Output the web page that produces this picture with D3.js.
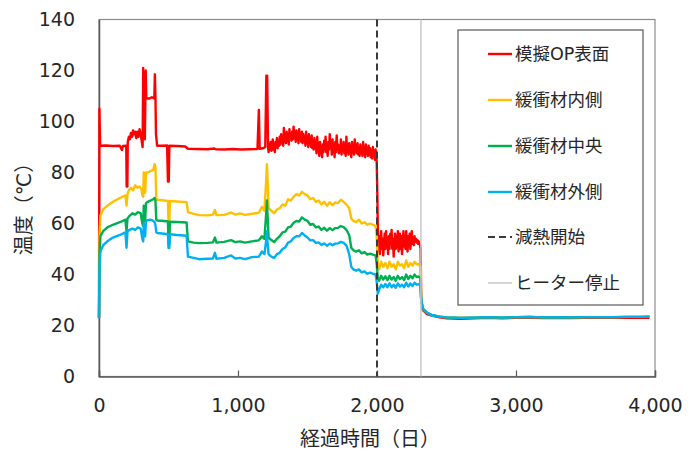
<!DOCTYPE html>
<html>
<head>
<meta charset="utf-8">
<script src="https://cdn.jsdelivr.net/npm/d3@7"></script>
<style>
  body { margin: 0; background: #fff; }
  svg text { font-family: "DejaVu Sans", "Noto Sans CJK JP", sans-serif; fill: #262626; }
</style>
</head>
<body>
<svg id="chart" width="696" height="452"></svg>
<script>
// values: [day, temperature °C]
var seriesNames = ["模擬OP表面", "緩衝材内側", "緩衝材中央", "緩衝材外側"];
var seriesColors = ["#ff0000", "#ffc000", "#00b050", "#00b0f0"];
var markerNames = ["減熱開始", "ヒーター停止"];
var markerDays = [2000, 2316];
var xTicks = [0, 1000, 2000, 3000, 4000];
var yTicks = [0, 20, 40, 60, 80, 100, 120, 140];

var redData = [[0,23],[3,105],[8,90.5],[50,90.6],[100,90.4],[150,90.5],[165,88.8],[172,90.4],[196,90.5],[199,74.5],[204,74.5],[207,92],[215,94],[222,93],[230,95.5],[238,94],[245,96.5],[252,95],[260,96],[268,93.5],[276,96],[284,94],[292,97],[300,95],[308,92],[314,90],[318,121],[322,96],[326,119],[330,93],[336,120],[340,109],[360,109],[380,109.5],[398,109],[402,118.5],[406,110],[410,95],[418,90.5],[450,90.5],[490,90.6],[496,76.5],[502,76.5],[506,90.5],[560,90.4],[620,90.2],[640,89.3],[700,89.2],[780,89.1],[830,89.4],[840,89.1],[900,89],[960,89.2],[1020,89],[1080,89.1],[1140,89.2],[1150,104.5],[1156,89.3],[1180,89.5],[1196,90],[1204,118],[1210,118],[1216,90],
  [1220,88],[1225,91],[1230,89],[1235,92],[1240,88.5],[1245,90],[1250,93],[1255,89],[1260,91],[1265,88],[1270,92],[1275,90],[1280,93.5],[1285,89.5],[1290,92],[1295,90.5],[1300,94],[1305,91],[1310,95],[1315,92],[1320,93],[1325,90.5],[1330,97.5],[1335,92],[1340,94.5],[1345,91.5],[1350,96],[1355,93],[1360,94],[1365,91],[1370,97],[1375,93],[1380,95],[1385,92.5],[1390,96],[1395,93],[1400,98],[1405,93.5],[1410,95],[1415,92],[1420,96.5],[1425,93],[1430,95],[1435,91.5],[1440,97],[1445,93],[1450,94.5],[1455,92],[1460,96],[1465,91.5],[1470,95],[1475,92.5],[1480,94],[1485,90.5],[1490,96],[1495,92],[1500,93.5],[1505,90],[1510,95],[1515,91.5],[1520,93],[1525,90],[1530,94.5],[1535,89.5],[1540,92],[1545,89],[1550,93.5],[1555,90],[1560,91],[1565,87.5],[1570,94],[1575,89],[1580,91.5],[1585,86.5],[1590,92],[1595,88.5],[1600,90],[1605,86],[1610,91],[1615,88],[1620,92.5],[1625,89],[1630,94],[1635,88],[1640,90],[1645,86.5],[1650,92],[1655,89],[1660,95],[1665,89.5],[1670,91],[1675,87],[1680,93],[1685,88.5],[1690,90.5],[1695,86],[1700,92],[1705,88],[1710,94.5],[1715,89],[1720,91],[1725,87.5],[1730,90],[1735,88],[1740,93],[1745,87],[1750,90.5],[1755,88.5],[1760,92],[1765,87.5],[1770,89.5],[1775,86.5],[1780,94],[1785,88],[1790,90],[1795,87],[1800,91.5],[1805,88.5],[1810,90],[1815,86],[1820,92],[1825,88],[1830,89.5],[1835,87],[1840,93],[1845,88],[1850,90],[1855,87.5],[1860,91.5],[1865,87],[1870,89.5],[1875,86.5],[1880,91],[1885,88],[1890,90],[1895,86.5],[1900,92],[1905,88],[1910,89.5],[1915,86],[1920,91],[1925,87.5],[1930,89],[1935,86.5],[1940,90.5],[1945,87],[1950,89.5],[1955,86],[1960,88.5],[1965,85.5],[1970,90],[1975,87],[1980,88.5],[1985,85],[1990,89],[1995,87],[1998,84],
  [2003,70],[2006,57],[2010,49],[2015,55],[2020,48],[2025,53],[2030,57],[2035,50],[2040,54],[2045,47.5],[2050,52],[2055,56],[2060,50],[2065,57],[2070,51],[2075,54],[2080,48],[2085,55],[2090,50],[2095,56],[2100,52],[2105,57.5],[2110,50],[2115,54],[2120,47],[2125,53],[2130,56],[2135,50],[2140,55],[2145,51],[2150,57],[2155,49],[2160,54],[2165,56],[2170,50],[2175,55],[2180,48],[2185,53],[2190,57],[2195,51],[2200,55],[2205,50],[2210,57],[2215,52],[2220,49],[2225,55],[2230,52],[2235,56],[2240,50],[2245,54],[2250,57],[2255,52],[2260,54],[2265,51.5],[2270,55],[2275,53],[2280,54],[2285,52.5],[2290,53.5],[2295,52],[2300,53],[2305,52],[2310,51.5],[2314,50],
  [2318,30],[2330,26],[2360,24.5],[2400,23.8],[2450,23.2],[2500,22.8],[2600,22.6],[2700,22.8],[2800,23],[2900,22.8],[3000,23],[3100,23],[3200,22.9],[3300,23],[3400,22.9],[3500,23],[3600,23],[3700,23],[3800,23],[3900,23],[3960,23]];

var yellowData = [[0,23],[4,55],[10,63],[30,65.5],[60,67],[100,68.5],[150,70],[190,71],[198,67],[205,71.5],[215,73],[230,74],[245,73],[260,75],[275,74],[290,74.5],[305,73.5],[312,71],[318,70.5],[322,80],[328,78],[332,72],[338,80],[350,80],[370,80.5],[390,81],[400,83.3],[406,82],[412,70],[420,69.3],[470,69],[496,68.8],[500,60.5],[506,60.5],[510,68.8],[560,68.6],[630,68.4],[640,64.5],[680,63.8],[720,63.3],[780,63.2],[820,63.5],[834,65.3],[845,63.3],[900,63.4],[950,64.3],[980,63.5],[1014,64],[1050,63.4],[1100,63.8],[1150,64.2],[1172,66.5],[1190,65],[1204,78],[1208,83.3],[1212,78],[1220,66],[1240,65],[1260,64],[1280,65.5],[1300,66],[1320,67.5],[1340,67],[1360,69.5],[1380,69],[1400,70.5],[1420,71.5],[1440,71],[1460,72.4],[1480,71.5],[1500,71],[1520,69.5],[1540,70],[1560,68.5],[1580,69],[1600,67.5],[1620,68.5],[1640,67],[1660,68.3],[1680,67.2],[1700,68.3],[1720,68],[1740,69.3],[1760,68.5],[1780,67.5],[1800,66],[1815,62],[1830,61],[1850,60.5],[1870,61.5],[1890,60],[1910,60.5],[1930,59.5],[1950,60],[1970,59.5],[1990,59],[1998,55],[2006,44],[2015,42],[2030,45],[2045,43],[2060,44.5],[2075,42.5],[2090,45],[2105,43],[2120,44],[2135,42],[2150,45],[2165,43.5],[2180,44],[2195,42.5],[2210,45.5],[2225,43],[2240,44.5],[2255,43.5],[2270,45],[2285,44],[2300,44],[2312,43],[2318,30],[2330,26.5],[2360,25],[2400,24],[2450,23.5],[2500,23.2],[2600,23],[2700,23.1],[2800,23.3],[2900,23.1],[3000,23.3],[3100,23.4],[3200,23.2],[3300,23.3],[3400,23.2],[3500,23.3],[3600,23.3],[3700,23.3],[3800,23.4],[3900,23.4],[3960,23.5]];

var greenData = [[0,23],[4,48],[10,55],[30,57],[60,58.5],[100,59.5],[150,60.5],[190,61.5],[198,57],[205,62],[220,63],[240,64],[260,63.5],[280,64.5],[300,64],[312,60],[318,59],[322,67],[328,66],[332,61],[338,68],[350,68.5],[370,69],[390,69.5],[400,70],[406,69],[412,61.5],[420,61.2],[470,61],[496,60.8],[500,52],[506,52],[510,60.7],[560,60.6],[630,60.4],[640,53],[680,52.5],[720,52.3],[780,52.4],[820,52.6],[834,54.5],[845,52.5],[900,52.8],[950,53.5],[980,52.7],[1014,53],[1050,52.5],[1100,53],[1150,53.4],[1172,55],[1190,54],[1204,65],[1208,69],[1212,64],[1220,54.5],[1240,53.5],[1260,52.7],[1280,54],[1300,55],[1320,56.5],[1340,56.8],[1360,58.5],[1380,58.8],[1400,60.3],[1420,61],[1440,60.8],[1460,62.4],[1480,61.5],[1500,61],[1520,59.5],[1540,59.8],[1560,58.5],[1580,58.8],[1600,57.5],[1620,58.3],[1640,57.2],[1660,58.2],[1680,57.4],[1700,58.2],[1720,58.3],[1740,59],[1760,58.6],[1780,57.5],[1800,55.5],[1815,50.5],[1830,49.5],[1850,49],[1870,49.5],[1890,48.3],[1910,48.8],[1930,47.8],[1950,48.2],[1970,47.8],[1990,47.5],[1998,44],[2006,38.5],[2015,37.5],[2030,39.5],[2045,38],[2060,39.3],[2075,37.8],[2090,39.5],[2105,38],[2120,39],[2135,37.5],[2150,39.5],[2165,38.2],[2180,39],[2195,37.8],[2210,40],[2225,38.2],[2240,39.5],[2255,38.5],[2270,40],[2285,39],[2300,39.2],[2312,38.5],[2318,30],[2330,26.5],[2360,25],[2400,24],[2450,23.5],[2500,23.2],[2600,23],[2700,23.1],[2800,23.3],[2900,23.1],[3000,23.3],[3100,23.4],[3200,23.2],[3300,23.3],[3400,23.2],[3500,23.3],[3600,23.3],[3700,23.3],[3800,23.4],[3900,23.4],[3960,23.5]];

var blueData = [[0,23],[4,42],[10,49],[30,51.5],[60,53],[100,54.5],[150,55.5],[190,56.5],[198,50.5],[205,57],[220,57.5],[240,58],[260,57.5],[280,58.5],[300,58],[312,54],[318,53],[322,60],[328,59],[332,55],[338,61],[350,61.3],[370,61.5],[390,61],[400,60.5],[406,59.5],[412,56.5],[420,56.3],[470,56],[496,55.8],[500,50.4],[506,50.4],[510,55.8],[560,55.5],[630,55.2],[640,47],[680,46.5],[720,46],[780,46.2],[820,46.3],[834,48.5],[845,46.2],[900,46.5],[950,47.5],[980,46.3],[1014,46.5],[1050,46],[1100,46.8],[1150,47],[1172,49],[1190,48],[1204,54],[1208,57],[1212,53],[1220,48],[1240,47],[1260,46.5],[1280,48],[1300,48.5],[1320,50],[1340,50.6],[1360,52.5],[1380,53],[1400,54.3],[1420,55],[1440,55],[1460,56.3],[1480,55.3],[1500,54.5],[1520,53.4],[1540,53.5],[1560,52.4],[1580,52.6],[1600,51.6],[1620,52.2],[1640,51.3],[1660,52.1],[1680,51.5],[1700,52.1],[1720,52.2],[1740,52.8],[1760,52.4],[1780,51.3],[1800,48],[1815,43],[1830,42],[1850,41.5],[1870,42],[1890,40.8],[1910,41.2],[1930,40.3],[1950,40.7],[1970,40.3],[1990,40],[1998,37],[2006,32.5],[2015,34],[2030,36],[2045,35],[2060,36.3],[2075,35],[2090,36.5],[2105,35],[2120,36],[2135,34.8],[2150,36.5],[2165,35.3],[2180,36],[2195,35],[2210,36.8],[2225,35.3],[2240,36.5],[2255,35.5],[2270,36.8],[2285,36],[2300,36.2],[2312,35.5],[2318,30],[2330,26.5],[2360,25],[2400,24],[2450,23.5],[2500,23.2],[2600,23],[2700,23.1],[2800,23.3],[2900,23.1],[3000,23.3],[3100,23.4],[3200,23.2],[3300,23.3],[3400,23.2],[3500,23.3],[3600,23.3],[3700,23.3],[3800,23.4],[3900,23.4],[3960,23.5]];

var allSeries = [redData, yellowData, greenData, blueData];

var svg = d3.select("#chart");
var plotLeft = 99, plotRight = 655, plotTop = 19.5, plotBottom = 376.5;

var xScale = d3.scaleLinear().domain([0, 4000]).range([plotLeft, plotRight]);
var yScale = d3.scaleLinear().domain([0, 140]).range([plotBottom, plotTop]);

// plot frame
svg.append("rect")
  .attr("x", plotLeft).attr("y", plotTop)
  .attr("width", plotRight - plotLeft).attr("height", plotBottom - plotTop)
  .attr("fill", "none")
  .attr("stroke", "#8c8c8c")
  .attr("stroke-width", 1.2);

// x axis, ticks point up into the plot
var xAxis = svg.append("g")
  .attr("transform", "translate(0," + plotBottom + ")")
  .call(d3.axisBottom(xScale).tickValues(xTicks).tickFormat(d3.format(",")).tickSize(-6).tickPadding(22));
xAxis.select(".domain").attr("stroke", "#595959").attr("stroke-width", 1.5);
xAxis.selectAll(".tick line").attr("stroke", "#595959").attr("stroke-width", 1.2);
xAxis.selectAll(".tick text").style("font-size", "19px").attr("fill", "#262626");

var yAxis = svg.append("g")
  .attr("transform", "translate(" + plotLeft + ",0)")
  .call(d3.axisLeft(yScale).tickValues(yTicks).tickSize(0).tickPadding(24));
yAxis.select(".domain").attr("stroke", "#595959").attr("stroke-width", 1.5);
yAxis.selectAll(".tick text").style("font-size", "19px").attr("fill", "#262626");

// series lines
var line = d3.line()
  .x(d => xScale(d[0]))
  .y(d => yScale(d[1]));

svg.selectAll(".series")
  .data(allSeries)
  .enter()
  .append("path")
  .attr("class", "series")
  .attr("d", line)
  .attr("fill", "none")
  .attr("stroke", (d, i) => seriesColors[i])
  .attr("stroke-width", 2.4)
  .attr("stroke-linejoin", "round");

// marker lines
svg.append("line")
  .attr("x1", xScale(markerDays[1])).attr("x2", xScale(markerDays[1]))
  .attr("y1", plotTop).attr("y2", plotBottom)
  .attr("stroke", "#c8c8c8").attr("stroke-width", 1.5);

svg.append("line")
  .attr("x1", xScale(markerDays[0])).attr("x2", xScale(markerDays[0]))
  .attr("y1", plotTop).attr("y2", plotBottom)
  .attr("stroke", "#3a3a3a").attr("stroke-width", 2)
  .attr("stroke-dasharray", "7,4");

// axis titles
svg.append("text")
  .attr("x", (plotLeft + plotRight) / 2 - 7)
  .attr("y", 446)
  .style("text-anchor", "middle")
  .style("font-size", "20px")
  .text("経過時間（日）");

svg.append("text")
  .attr("transform", "rotate(-90)")
  .attr("x", -204)
  .attr("y", 31)
  .style("text-anchor", "middle")
  .style("font-size", "20px")
  .text("温度（℃）");

// legend
var legend = svg.append("g");
legend.append("rect")
  .attr("x", 458).attr("y", 30)
  .attr("width", 185).attr("height", 275)
  .attr("fill", "#fff")
  .attr("stroke", "#595959")
  .attr("stroke-width", 1.2);

var legendRows = [54, 100, 146, 192, 237, 283];
var legendNames = seriesNames.concat(markerNames);

legendRows.forEach(function(ry, i) {
  var g = legend.append("g");
  if (i < 4) {
    g.append("line").attr("x1", 488).attr("x2", 512).attr("y1", ry).attr("y2", ry)
      .attr("stroke", seriesColors[i]).attr("stroke-width", 2.4);
  } else if (i == 4) {
    g.append("line").attr("x1", 488).attr("x2", 512).attr("y1", ry).attr("y2", ry)
      .attr("stroke", "#3a3a3a").attr("stroke-width", 1.8).attr("stroke-dasharray", "7,4");
  } else {
    g.append("line").attr("x1", 488).attr("x2", 512).attr("y1", ry).attr("y2", ry)
      .attr("stroke", "#c8c8c8").attr("stroke-width", 1.5);
  }
  g.append("text")
    .attr("x", 515).attr("y", ry + 6)
    .style("font-size", "17.5px")
    .text(legendNames[i]);
});
</script>
</body>
</html>
